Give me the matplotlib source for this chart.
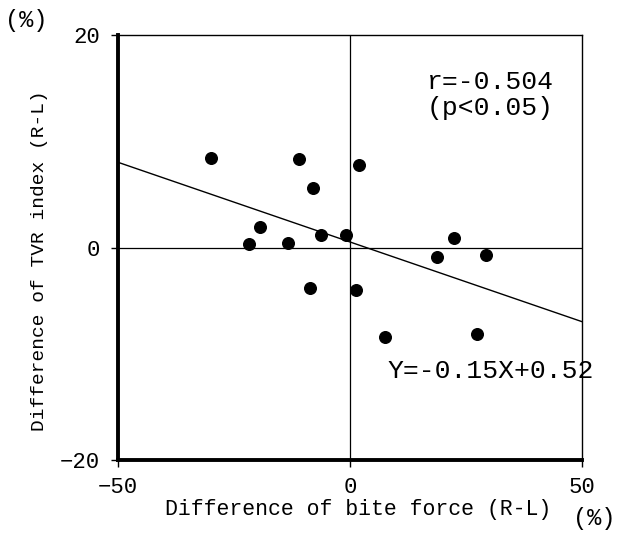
import matplotlib
matplotlib.use("Agg")
import matplotlib.pyplot as plt
import numpy as np

# Data
bite_force_diff = [-30.0, -10.9, 1.9, -8.0, -19.5, -21.7, -13.3, -6.2, -0.8,
                   22.5, 18.7, 29.4, -8.6, 1.3, 7.5, 27.3]
tvr_index_diff = [8.4, 8.3, 7.8, 5.6, 1.9, 0.3, 0.4, 1.2, 1.2,
                  0.9, -0.9, -0.7, -3.8, -4.0, -8.4, -8.1]
reg_slope = -0.15
reg_intercept = 0.52
x_ticks = [-50, 0, 50]
y_ticks = [-20, 0, 20]

FONT = ["Liberation Mono", "DejaVu Sans Mono"]
plt.rcParams['font.family'] = FONT

fig = plt.figure(figsize=(6.23, 5.34), dpi=100)
ax = fig.add_axes([118/623, 1-460/534, (582-118)/623, (460-35)/534])

ax.set_xlim(-50, 50)
ax.set_ylim(-20, 20)

# zero reference lines
ax.axhline(0, color='black', lw=0.9, zorder=1)
ax.axvline(0, color='black', lw=0.9, zorder=1)

# regression line
xl = np.array([-50, 50])
ax.plot(xl, reg_slope * xl + reg_intercept, color='black', lw=1.0, zorder=2)

ax.scatter(bite_force_diff, tvr_index_diff, s=70, color='black', zorder=3)

ax.set_xticks(x_ticks)
ax.set_yticks(y_ticks)
ax.tick_params(axis='both', direction='out', length=5, width=1, labelsize=16)
ax.tick_params(axis='x', pad=7)
ax.tick_params(axis='y', pad=8)
for s in ['left', 'bottom']:
    ax.spines[s].set_linewidth(2.8)
for s in ['top', 'right']:
    ax.spines[s].set_linewidth(1.0)

ax.text(0.666, 0.918, "r=-0.504\n(p<0.05)", transform=ax.transAxes,
        fontsize=19, va='top', ha='left', linespacing=1.1)
ax.text(0.58, 0.209, "Y=-0.15X+0.52", transform=ax.transAxes,
        fontsize=19, va='center', ha='left', clip_on=False)

fig.text(40/623, 1-261/534, "Difference of TVR index (R-L)", rotation=90,
         fontsize=14, ha='center', va='center')
fig.text(358/623, 1-510/534, "Difference of bite force (R-L)",
         fontsize=15.5, ha='center', va='center')
fig.text(26/623, 1-21/534, "(%)", fontsize=17, ha='center', va='center')
fig.text(594/623, 1-518/534, "(%)", fontsize=17, ha='center', va='center')

fig.savefig("out.png", dpi=100)
